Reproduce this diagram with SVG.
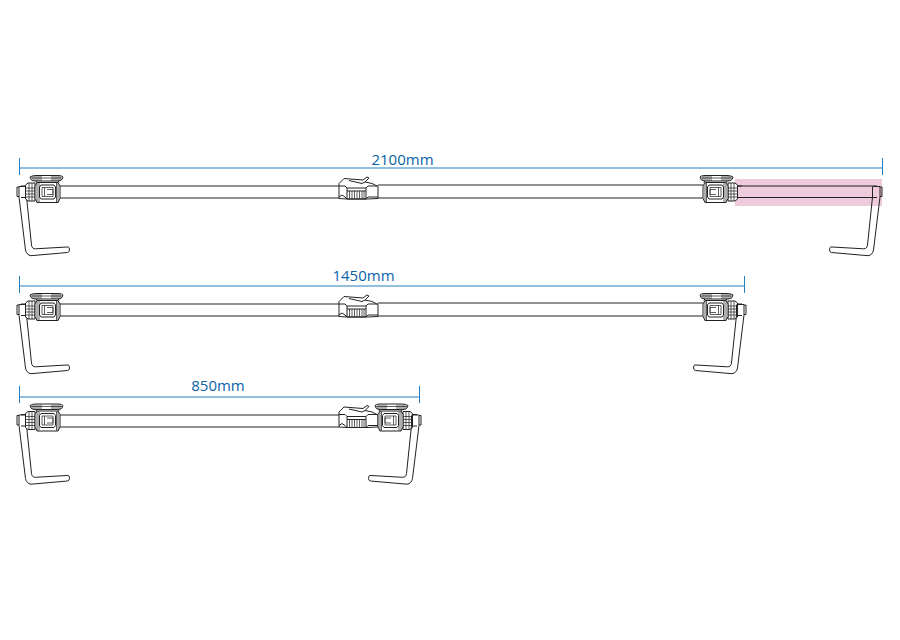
<svg xmlns="http://www.w3.org/2000/svg" xmlns:xlink="http://www.w3.org/1999/xlink" width="900" height="640" viewBox="0 0 900 640">
<style>
.l{fill:none;stroke:#222;stroke-width:1}
.w{fill:#fff;stroke:#222;stroke-width:1}
.t{fill:none;stroke:#222;stroke-width:1.2}
.g{fill:none;stroke:#333;stroke-width:.8}
.d{fill:none;stroke:#0b6fb8;stroke-width:.9}
.x{font-family:"Open Sans","Noto Sans",sans-serif;font-size:15px;fill:#0b62a8;text-anchor:middle}
</style>
<defs>
<g id="handle">
<path class="l" d="M19 187V197L25.500 250Q26.500 255 31 255.700L67.500 252.500Q69.500 252 69.500 250L69 247.500Q69 247 67 247L35.500 248.800Q32 249 31.500 245L26.500 197V187"/>
<path class="l" d="M19 186.500H26.500M19 187H17V196.500H19"/>
</g>
<g id="clamp">
<path class="l" d="M26.500 186H21M26.500 197.500H21"/>
<path class="w" d="M25.500 185L28 183H35V201H28L25.500 199Z"/>
<path class="g" d="M25.500 188H35M25.500 191H35M25.500 194H35M25.500 197H35M29 183V201M32 183V201"/>
<path class="w" d="M35 186L37 182.500H58L60 186V198.500L58 202.500H37L35 198.500Z"/>
<path class="g" d="M37 182.500V202.500M39 183V202M56.500 183V202M58 182.500V202.500"/>
<path class="l" d="M41 185H54L55.500 187V197L54 199H41L39.500 197V187Z"/>
<path class="g" d="M42 187.500H53V196.500H42ZM44.500 187.500V196.500M47 189.500H53V194.500H47"/>
<path class="l" d="M37 180.500L36 182.500M58 180.500L59 182.500"/>
<path class="w" d="M30 177Q32 175.500 36 175.500H58Q62 175.500 63 177L62 179.500Q60 181 58 181H36Q32 181 31 179.500Z"/>
<path class="g" d="M30.500 178H62.500M33 176V181M35 176V181M37 176V181M39 176V181M41 176V181M52 176V181M54 176V181M56 176V181M58 176V181M60 176V181"/>
</g>
<g id="coupler">
<path class="w" d="M339 198.500V183.500L344 178.500L363 180L367 177L369 178L365 182L372 183.500L378 186.500V198.500L367 199H347Z"/>
<path class="l" d="M349 180.500L362 183.500L365 182M339 186H345L347 188H366L368 186H378"/>
<path class="l" d="M339 197L342 195L345 197L347 199M366 199L368 197L378 197"/>
<path class="l" d="M347 191H366V199H347ZM347 188V191M366 188V191"/>
<path class="g" d="M349.500 191V199M352 191V199M354.500 191V199M357 191V199M359.500 191V199M362 191V199M364 191V199"/>
</g>
</defs>
<g id="highlight"><rect x="735" y="179" width="147" height="27" fill="#eecadd"/></g>
<g id="connectors">
<path class="d" d="M19.500 158V175M19.500 168H882.500M882.500 158V175"/>
<path class="d" d="M19.500 276V293M19.500 286H744.500M744.500 276V293"/>
<path class="d" d="M19.500 386V403M19.500 397H419.500M419.500 386V403"/>
<path class="t" d="M60 186H339M378 185H703M736 186H877"/>
<path class="t" d="M60 198H339M378 198H703M736 197.500H877"/>
<path class="t" d="M60 304H339M378 303H703"/>
<path class="t" d="M60 316H339M378 316H703"/>
<path class="t" d="M60 415H339"/>
<path class="t" d="M60 427H339"/>
</g>
<g id="row-2100">
<use id="left-handle-1" xlink:href="#handle" href="#handle"/>
<use id="left-clamp-1" xlink:href="#clamp" href="#clamp"/>
<use id="coupler-1" xlink:href="#coupler" href="#coupler"/>
<use id="right-clamp-1" xlink:href="#clamp" href="#clamp" transform="matrix(-1 0 0 1 763 0)"/>
<use id="right-handle-1" xlink:href="#handle" href="#handle" transform="matrix(-1 0 0 1 899 0)"/>
<text class="x" x="402.500" y="165">2100mm</text>
</g>
<g id="row-1450">
<use id="left-handle-2" xlink:href="#handle" href="#handle" transform="translate(0 118)"/>
<use id="left-clamp-2" xlink:href="#clamp" href="#clamp" transform="translate(0 118)"/>
<use id="coupler-2" xlink:href="#coupler" href="#coupler" transform="translate(0 118)"/>
<use id="right-clamp-2" xlink:href="#clamp" href="#clamp" transform="matrix(-1 0 0 1 763 118)"/>
<use id="right-handle-2" xlink:href="#handle" href="#handle" transform="matrix(-1 0 0 1 763 118)"/>
<text class="x" x="363.500" y="281">1450mm</text>
</g>
<g id="row-850">
<use id="left-handle-3" xlink:href="#handle" href="#handle" transform="translate(0 228.500)"/>
<use id="left-clamp-3" xlink:href="#clamp" href="#clamp" transform="translate(0 228.500)"/>
<use id="coupler-3" xlink:href="#coupler" href="#coupler" transform="translate(0 228.500)"/>
<use id="right-clamp-3" xlink:href="#clamp" href="#clamp" transform="matrix(-1 0 0 1 438 228.500)"/>
<use id="right-handle-3" xlink:href="#handle" href="#handle" transform="matrix(-1 0 0 1 438 228.500)"/>
<text class="x" x="218" y="391">850mm</text>
</g>
</svg>
